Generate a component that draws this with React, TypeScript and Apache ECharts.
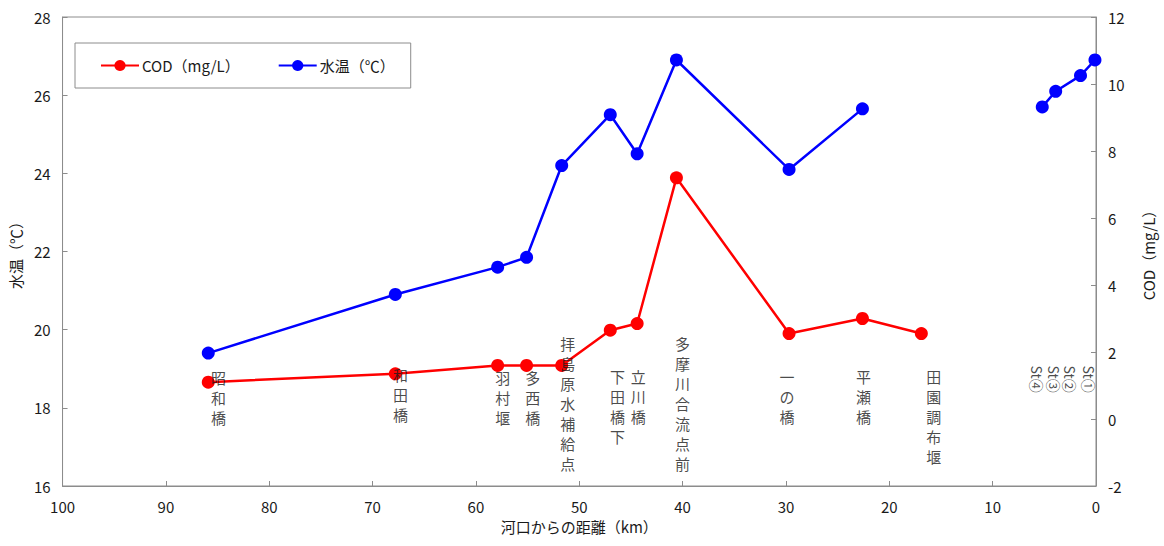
import React, { useEffect, useRef } from "react";
import * as echarts from "echarts";

// ---- data ----
const stationNames = ["昭和橋", "和田橋", "羽村堰", "多西橋", "拝島原水補給点", "下田橋下", "立川橋", "多摩川合流点前", "一の橋", "平瀬橋", "田園調布堰"];
const stationKm = [85.9, 67.8, 57.9, 55.1, 51.7, 47.0, 44.4, 40.6, 29.7, 22.6, 16.9];
const waterTemp: (number | null)[] = [19.4, 20.9, 21.6, 21.85, 24.2, 25.5, 24.5, 26.9, 24.1, 25.65, null];
const codValues = [1.1, 1.35, 1.6, 1.6, 1.6, 2.65, 2.85, 7.2, 2.55, 3.0, 2.55];

const stNames = ["St④", "St③", "St②", "St①"];
const stKm = [5.2, 3.9, 1.5, 0.1];
const stTemp = [25.7, 26.1, 26.5, 26.9];

// label anchors (in axis units: km, °C)
const labelKm = [84.9, 67.3, 57.4, 54.5, 51.1, 46.3, 44.3, 40.0, 29.9, 22.5, 15.7];
const labelTemp = [19.02, 19.1, 19.04, 19.04, 19.9, 19.06, 19.06, 19.9, 19.06, 19.06, 19.06];
const stLabelKm = [5.7, 4.1, 2.5, 0.7];
const stLabelTemp = 19.08;

const seriesNames = ["COD（mg/L）", "水温（℃）"];
const axisNames = { x: "河口からの距離（km）", left: "水温（℃）", right: "COD（mg/L）" };

const FONT = "'Noto Sans CJK JP', 'Noto Sans', sans-serif";
const AXIS_COLOR = "#8c8c8c";
const TEXT_COLOR = "#1a1a1a";

export default function App() {
  const ref = useRef<HTMLDivElement>(null);

  useEffect(() => {
    document.body.style.margin = "0";
    if (!ref.current) return;
    const chart = echarts.init(ref.current, undefined, { renderer: "svg" });

    const tempData = stationKm
      .map((k, i) => [k, waterTemp[i] === null ? "-" : waterTemp[i]])
      .concat(stKm.map((k, i) => [k, stTemp[i]]));
    const codData = stationKm.map((k, i) => [k, codValues[i]]);

    const labelData = stationNames.map((n, i) => ({
      name: n,
      value: [labelKm[i], labelTemp[i]],
    }));
    const stLabelData = stNames.map((n, i) => ({
      name: n,
      value: [stLabelKm[i], stLabelTemp],
    }));

    const tickLabel = { color: TEXT_COLOR, fontSize: 15, fontFamily: FONT };
    const axisLine = { show: true, onZero: false, lineStyle: { color: AXIS_COLOR, width: 1 } };
    const axisTick = { show: true, inside: true, length: 5, lineStyle: { color: AXIS_COLOR } };

    chart.setOption({
      animation: false,
      textStyle: { fontFamily: FONT },
      grid: {
        left: 62,
        right: 67,
        top: 17,
        bottom: 60,
        show: true,
        borderColor: AXIS_COLOR,
        borderWidth: 1,
      },
      legend: {
        data: seriesNames,
        left: 75,
        top: 43,
        padding: [15, 16, 15, 25],
        itemGap: 38,
        itemWidth: 38,
        itemHeight: 14,
        borderColor: AXIS_COLOR,
        borderWidth: 1,
        textStyle: { fontSize: 15, color: TEXT_COLOR, fontFamily: FONT, padding: [0, 0, 0, -2] },
      },
      xAxis: {
        type: "value",
        min: 0,
        max: 100,
        interval: 10,
        inverse: true,
        name: axisNames.x,
        nameLocation: "middle",
        nameGap: 32,
        nameTextStyle: { fontSize: 15, color: TEXT_COLOR, fontFamily: FONT },
        axisLine,
        axisTick,
        splitLine: { show: false },
        axisLabel: { ...tickLabel, margin: 13 },
      },
      yAxis: [
        {
          type: "value",
          min: 16,
          max: 28,
          interval: 2,
          position: "left",
          name: axisNames.left,
          nameLocation: "middle",
          nameRotate: 90,
          nameGap: 36,
          nameTextStyle: { fontSize: 15, color: TEXT_COLOR, fontFamily: FONT },
          axisLine,
          axisTick,
          splitLine: { show: false },
          axisLabel: { ...tickLabel, margin: 12 },
        },
        {
          type: "value",
          min: -2,
          max: 12,
          interval: 2,
          position: "right",
          name: axisNames.right,
          nameLocation: "middle",
          nameRotate: 90,
          nameGap: 45,
          nameTextStyle: { fontSize: 15, color: TEXT_COLOR, fontFamily: FONT },
          axisLine,
          axisTick,
          splitLine: { show: false },
          axisLabel: { ...tickLabel, margin: 12 },
        },
      ],
      series: [
        {
          name: seriesNames[0],
          type: "line",
          yAxisIndex: 1,
          data: codData,
          symbol: "circle",
          symbolSize: 13,
          color: "#ff0000",
          lineStyle: { width: 2.5, color: "#ff0000" },
          itemStyle: { color: "#ff0000" },
          z: 3,
        },
        {
          name: seriesNames[1],
          type: "line",
          yAxisIndex: 0,
          data: tempData,
          symbol: "circle",
          symbolSize: 13,
          color: "#0000ff",
          connectNulls: false,
          lineStyle: { width: 2.5, color: "#0000ff" },
          itemStyle: { color: "#0000ff" },
          z: 3,
        },
        {
          name: "labels",
          type: "scatter",
          yAxisIndex: 0,
          silent: true,
          symbolSize: 0.1,
          itemStyle: { color: "rgba(0,0,0,0)" },
          data: labelData,
          z: 5,
          label: {
            show: true,
            position: [0, 0],
            align: "center",
            verticalAlign: "top",
            formatter: (p: any) => String(p.name).split("").join("\n"),
            fontSize: 15,
            lineHeight: 20,
            color: TEXT_COLOR,
            fontFamily: FONT,
          },
        },
        {
          name: "stLabels",
          type: "scatter",
          yAxisIndex: 0,
          silent: true,
          symbolSize: 0.1,
          itemStyle: { color: "rgba(0,0,0,0)" },
          data: stLabelData,
          z: 5,
          label: {
            show: true,
            position: [0, 0],
            rotate: -90,
            align: "left",
            verticalAlign: "middle",
            formatter: (p: any) => p.name,
            fontSize: 14,
            color: TEXT_COLOR,
            fontFamily: FONT,
          },
        },
      ],
    });

    return () => chart.dispose();
  }, []);

  return <div ref={ref} style={{ width: 1164, height: 546 }} />;
}
